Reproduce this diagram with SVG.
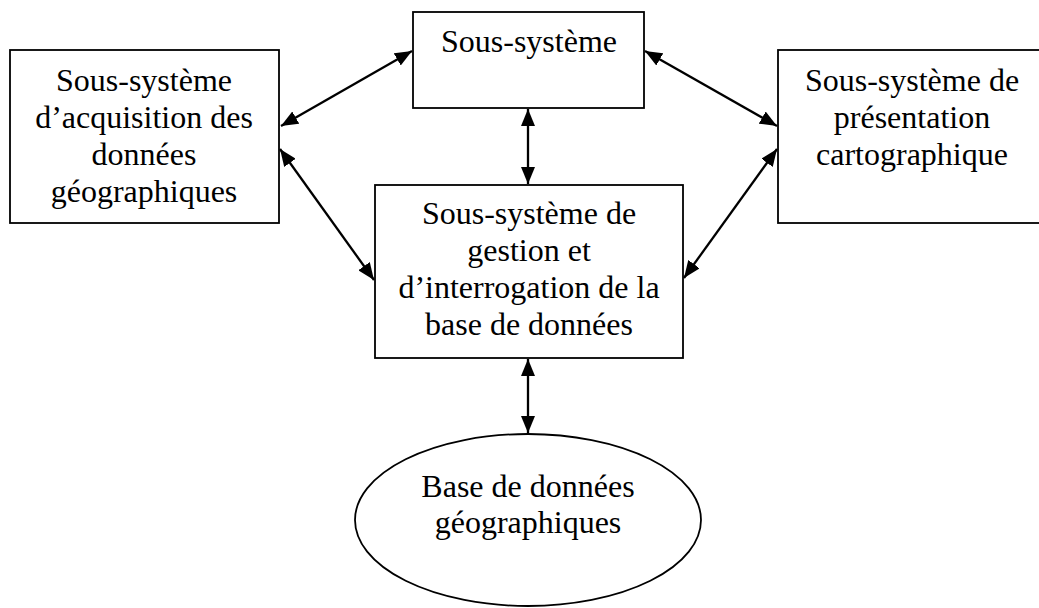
<svg xmlns="http://www.w3.org/2000/svg" width="1039" height="608" viewBox="0 0 1039 608">
<style>
.box{fill:#fff;stroke:#000;stroke-width:1.8}
.t{font-family:"Liberation Serif","Times New Roman",serif;font-size:32px;fill:#000;text-anchor:middle}
.c{stroke:#000;stroke-width:2.3;fill:none;marker-start:url(#ah);marker-end:url(#ah)}
</style>
<defs>
<marker id="ah" markerUnits="userSpaceOnUse" markerWidth="18" markerHeight="14" refX="17" refY="7" orient="auto-start-reverse">
<path d="M0,0 L17,7 L0,14 z" fill="#000"/>
</marker>
</defs>
<rect width="1039" height="608" fill="#fff"/>
<g id="connectors">
<line class="c" x1="281" y1="126" x2="412" y2="51"/>
<line class="c" x1="280" y1="149" x2="374" y2="280"/>
<line class="c" x1="528" y1="109" x2="528" y2="184"/>
<line class="c" x1="645" y1="51" x2="777" y2="126"/>
<line class="c" x1="684" y1="278" x2="777" y2="149"/>
<line class="c" x1="528" y1="359" x2="528" y2="433"/>
</g>
<g id="node-acquisition">
<rect class="box" x="10" y="50" width="269" height="173"/>
<text class="t" x="144" y="91">Sous-système</text>
<text class="t" x="144" y="128">d’acquisition des</text>
<text class="t" x="144" y="165">données</text>
<text class="t" x="144" y="202">géographiques</text>
</g>
<g id="node-soussysteme">
<rect class="box" x="413" y="12" width="231" height="96"/>
<text class="t" x="529" y="52">Sous-système</text>
</g>
<g id="node-presentation">
<rect class="box" x="778" y="50" width="275" height="173"/>
<text class="t" x="912" y="91">Sous-système de</text>
<text class="t" x="912" y="128">présentation</text>
<text class="t" x="912" y="165">cartographique</text>
</g>
<g id="node-gestion">
<rect class="box" x="375" y="185" width="308" height="173"/>
<text class="t" x="529" y="224">Sous-système de</text>
<text class="t" x="529" y="261">gestion et</text>
<text class="t" x="529" y="298">d’interrogation de la</text>
<text class="t" x="529" y="335">base de données</text>
</g>
<g id="node-base">
<ellipse class="box" cx="528" cy="520" rx="173" ry="86"/>
<text class="t" x="528" y="497">Base de données</text>
<text class="t" x="528" y="533">géographiques</text>
</g>
</svg>
